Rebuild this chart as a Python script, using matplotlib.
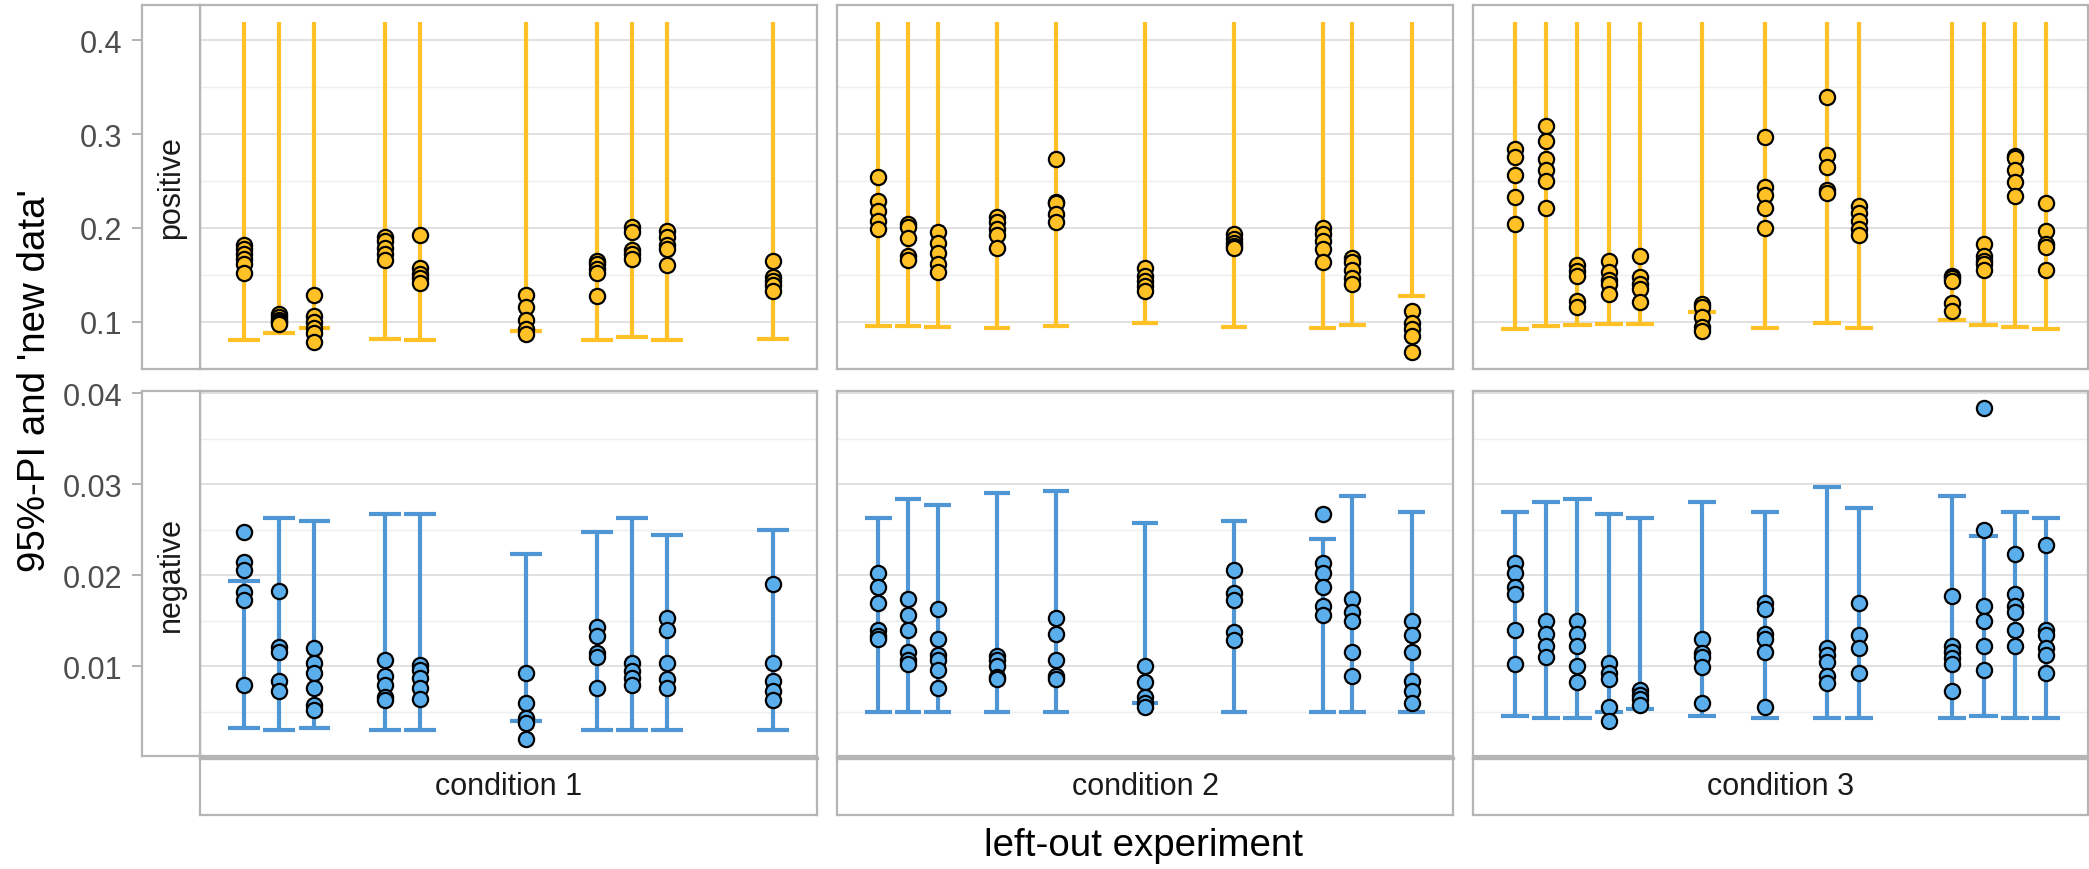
import numpy as np
import matplotlib
matplotlib.use('Agg')
from matplotlib import pyplot as plt

plt.rcParams['font.family'] = ['Liberation Sans', 'DejaVu Sans']

conditions = ['condition 1', 'condition 2', 'condition 3']
signs = ['positive', 'negative']

# upper end of every positive interval
pos_top = 0.42

# condition 1
c1_x = [0, 1, 2, 4, 5, 8, 10, 11, 12, 15]
c1_pos_lo = [0.080, 0.0876, 0.093, 0.081, 0.080, 0.0894, 0.080, 0.0837, 0.080, 0.081]
c1_pos_pts = [[0.182, 0.177, 0.172, 0.167, 0.161, 0.152],
              [0.108, 0.105, 0.102, 0.100, 0.097],
              [0.128, 0.106, 0.100, 0.093, 0.088, 0.078],
              [0.190, 0.186, 0.178, 0.172, 0.166],
              [0.192, 0.157, 0.151, 0.146, 0.141],
              [0.128, 0.115, 0.102, 0.092, 0.087],
              [0.165, 0.161, 0.156, 0.152, 0.127],
              [0.201, 0.196, 0.176, 0.172, 0.167],
              [0.197, 0.190, 0.182, 0.177, 0.160],
              [0.165, 0.147, 0.143, 0.139, 0.133]]
c1_neg_lo = [0.0033, 0.0030, 0.0033, 0.0030, 0.0030, 0.0040, 0.0030, 0.0030, 0.0030, 0.0030]
c1_neg_hi = [0.0194, 0.0263, 0.0260, 0.0267, 0.0267, 0.0223, 0.0247, 0.0263, 0.0244, 0.0250]
c1_neg_pts = [[0.0247, 0.0215, 0.0206, 0.0182, 0.0173, 0.0080],
              [0.0183, 0.0121, 0.0116, 0.0084, 0.0073],
              [0.0120, 0.0104, 0.0093, 0.0076, 0.0058, 0.0052],
              [0.0107, 0.0090, 0.0080, 0.0067, 0.0063],
              [0.0102, 0.0096, 0.0087, 0.0076, 0.0064],
              [0.0093, 0.0060, 0.0043, 0.0038, 0.0020],
              [0.0143, 0.0133, 0.0115, 0.0110, 0.0076],
              [0.0104, 0.0095, 0.0087, 0.0080],
              [0.0153, 0.0140, 0.0104, 0.0086, 0.0076],
              [0.0190, 0.0104, 0.0084, 0.0073, 0.0063]]

# condition 2
c2_x = [0, 1, 2, 4, 6, 9, 12, 15, 16, 18]
c2_pos_lo = [0.0957, 0.0947, 0.094, 0.0929, 0.0957, 0.0986, 0.094, 0.0929, 0.0968, 0.1277]
c2_pos_pts = [[0.254, 0.229, 0.218, 0.207, 0.199],
              [0.204, 0.201, 0.189, 0.170, 0.166],
              [0.196, 0.184, 0.173, 0.161, 0.153],
              [0.211, 0.206, 0.199, 0.192, 0.178],
              [0.273, 0.228, 0.226, 0.215, 0.206],
              [0.157, 0.149, 0.143, 0.138, 0.133],
              [0.193, 0.188, 0.184, 0.181, 0.178],
              [0.200, 0.193, 0.186, 0.177, 0.164],
              [0.168, 0.163, 0.155, 0.146, 0.140],
              [0.111, 0.098, 0.092, 0.085, 0.067]]
c2_neg_lo = [0.005, 0.005, 0.005, 0.005, 0.005, 0.006, 0.005, 0.005, 0.005, 0.005]
c2_neg_hi = [0.0263, 0.0284, 0.0277, 0.0290, 0.0293, 0.0257, 0.0260, 0.0240, 0.0287, 0.0270]
c2_neg_pts = [[0.0203, 0.0187, 0.0170, 0.0140, 0.0133, 0.0130],
              [0.0174, 0.0157, 0.0140, 0.0116, 0.0107, 0.0103],
              [0.0163, 0.0130, 0.0113, 0.0107, 0.0096, 0.0076],
              [0.0111, 0.0107, 0.0100, 0.0089, 0.0086],
              [0.0153, 0.0136, 0.0107, 0.0090, 0.0086],
              [0.0100, 0.0083, 0.0067, 0.0060, 0.0056],
              [0.0206, 0.0181, 0.0173, 0.0138, 0.0129],
              [0.0267, 0.0214, 0.0203, 0.0187, 0.0166, 0.0157],
              [0.0174, 0.0160, 0.0150, 0.0116, 0.0090],
              [0.0150, 0.0134, 0.0116, 0.0084, 0.0073, 0.0060]]

# condition 3
c3_x = [0, 1, 2, 3, 4, 6, 8, 10, 11, 14, 15, 16, 17]
c3_pos_lo = [0.0922, 0.0957, 0.0968, 0.0975, 0.0975, 0.1106, 0.0933, 0.0986, 0.0933,
             0.1011, 0.0968, 0.094, 0.0915]
c3_pos_pts = [[0.284, 0.276, 0.256, 0.233, 0.204],
              [0.309, 0.293, 0.273, 0.262, 0.250, 0.221],
              [0.160, 0.154, 0.149, 0.122, 0.115],
              [0.165, 0.153, 0.144, 0.140, 0.129],
              [0.170, 0.148, 0.140, 0.135, 0.121],
              [0.119, 0.115, 0.105, 0.094, 0.090],
              [0.297, 0.244, 0.235, 0.221, 0.200],
              [0.340, 0.278, 0.265, 0.240, 0.237],
              [0.223, 0.216, 0.207, 0.199, 0.192],
              [0.149, 0.146, 0.143, 0.120, 0.111],
              [0.183, 0.170, 0.165, 0.161, 0.155],
              [0.277, 0.274, 0.262, 0.249, 0.234],
              [0.226, 0.197, 0.183, 0.180, 0.155]]
c3_neg_lo = [0.0046, 0.0043, 0.0043, 0.0050, 0.0053, 0.0046, 0.0043, 0.0043, 0.0043,
             0.0043, 0.0046, 0.0043, 0.0043]
c3_neg_hi = [0.0270, 0.0280, 0.0284, 0.0267, 0.0263, 0.0280, 0.0270, 0.0297, 0.0274,
             0.0287, 0.0243, 0.0270, 0.0263]
c3_neg_pts = [[0.0214, 0.0203, 0.0187, 0.0180, 0.0140, 0.0103],
              [0.0150, 0.0136, 0.0123, 0.0110],
              [0.0150, 0.0136, 0.0123, 0.0100, 0.0083],
              [0.0104, 0.0093, 0.0086, 0.0056, 0.0040],
              [0.0074, 0.0069, 0.0064, 0.0058],
              [0.0130, 0.0115, 0.0110, 0.0099, 0.0060],
              [0.0170, 0.0163, 0.0136, 0.0130, 0.0116, 0.0056],
              [0.0120, 0.0113, 0.0105, 0.0090, 0.0082],
              [0.0170, 0.0134, 0.0120, 0.0093],
              [0.0177, 0.0122, 0.0116, 0.0109, 0.0103, 0.0073],
              [0.0384, 0.0250, 0.0166, 0.0150, 0.0123, 0.0096],
              [0.0223, 0.0180, 0.0166, 0.0160, 0.0140, 0.0123],
              [0.0233, 0.0140, 0.0134, 0.0120, 0.0113, 0.0093]]

pos_major = [0.1, 0.2, 0.3, 0.4]
pos_minor = [0.05, 0.15, 0.25, 0.35]
neg_major = [0.01, 0.02, 0.03, 0.04]
neg_minor = [0.005, 0.015, 0.025, 0.035]

panels = [
    (c1_x, c1_pos_lo, c1_pos_pts, c1_neg_lo, c1_neg_hi, c1_neg_pts),
    (c2_x, c2_pos_lo, c2_pos_pts, c2_neg_lo, c2_neg_hi, c2_neg_pts),
    (c3_x, c3_pos_lo, c3_pos_pts, c3_neg_lo, c3_neg_hi, c3_neg_pts),
]

pos_line = '#FFC125'
pos_fill = '#FFC125'
neg_line = '#4E96D4'
neg_fill = '#5BAEEC'
border = '#B5B5B5'
cap = 0.9
bar_lw = 3.0

W, H = 2089, 870
fig = plt.figure(figsize=(W / 100, H / 100), dpi=100)


def px_axes(x0, y0, x1, y1):
    return fig.add_axes([x0 / W, 1 - y1 / H, (x1 - x0) / W, (y1 - y0) / H])


def style_box(ax):
    for s in ax.spines.values():
        s.set_color(border)
        s.set_linewidth(1.6)


def expand(lo, hi, mult=0.05):
    d = (hi - lo) * mult
    return lo - d, hi + d


col_px = [(200, 817), (837, 1453), (1473, 2088)]
row_px = [(6, 370), (392, 757)]

# shared y range per row, as facet_grid(scales='free')
pos_all = [v for p in panels for g in p[2] for v in g] + [pos_top] + \
          [v for p in panels for v in p[1]]
neg_all = [v for p in panels for g in p[5] for v in g] + \
          [v for p in panels for v in p[3] + p[4]]
ylims = [expand(min(pos_all), max(pos_all)), expand(min(neg_all), max(neg_all))]
majors = [pos_major, neg_major]
minors = [pos_minor, neg_minor]

for c, (xs, plo, ppts, nlo, nhi, npts) in enumerate(panels):
    xlo, xhi = expand(min(xs) - cap / 2, max(xs) + cap / 2)
    left = np.array(xs) - cap / 2
    right = np.array(xs) + cap / 2
    for r in range(2):
        ax = px_axes(col_px[c][0], row_px[r][0], col_px[c][1], row_px[r][1])
        ax.set_xlim(xlo, xhi)
        ax.set_ylim(*ylims[r])
        ax.set_yticks(majors[r])
        ax.set_yticks(minors[r], minor=True)
        ax.set_xticks([])
        ax.grid(axis='y', which='major', color='#DEDEDE', linewidth=1.3)
        ax.grid(axis='y', which='minor', color='#EEEEEE', linewidth=1.0)
        ax.tick_params(which='both', left=False, labelleft=False)
        ax.set_axisbelow(True)
        style_box(ax)

        if r == 0:
            ax.vlines(xs, plo, pos_top, color=pos_line, linewidth=bar_lw, zorder=2)
            ax.hlines(plo, left, right, color=pos_line, linewidth=bar_lw, zorder=2)
            groups, fill = ppts, pos_fill
        else:
            ax.vlines(xs, nlo, nhi, color=neg_line, linewidth=bar_lw, zorder=2)
            ax.hlines(nlo, left, right, color=neg_line, linewidth=bar_lw, zorder=2)
            ax.hlines(nhi, left, right, color=neg_line, linewidth=bar_lw, zorder=2)
            groups, fill = npts, neg_fill

        for x, g in zip(xs, groups):
            ax.scatter([x] * len(g), g, s=120, c=fill, edgecolors='black',
                       linewidths=1.6, zorder=3)

# row strips with the y axis on their outer side
for r in range(2):
    sx = px_axes(142, row_px[r][0], 200, row_px[r][1])
    sx.set_ylim(*ylims[r])
    sx.set_xlim(0, 1)
    sx.set_xticks([])
    sx.set_yticks(majors[r])
    sx.set_yticklabels(['%g' % v for v in majors[r]])
    sx.tick_params(axis='y', length=7, width=1.3, color='#ABABAB', pad=7,
                   labelsize=22, labelcolor='#4D4D4D')
    style_box(sx)
    sx.text(0.5, 0.5, signs[r], rotation=90, ha='center', va='center',
            fontsize=22, color='#1A1A1A', transform=sx.transAxes)

# column strips under the panels
for c in range(3):
    sx = px_axes(col_px[c][0], 759, col_px[c][1], 816)
    sx.set_xticks([])
    sx.set_yticks([])
    style_box(sx)
    sx.spines['top'].set_linewidth(2.4)
    sx.text(0.5, 0.5, conditions[c], ha='center', va='center', fontsize=22,
            color='#1A1A1A', transform=sx.transAxes)

fig.text(35 / W, 1 - 381 / H, "95%-PI and 'new data'", rotation=90,
         ha='center', va='center', fontsize=27.7)
fig.text(1144 / W, 1 - 846 / H, 'left-out experiment', ha='center',
         va='center', fontsize=27.7)

fig.savefig('out.png', dpi=100)
